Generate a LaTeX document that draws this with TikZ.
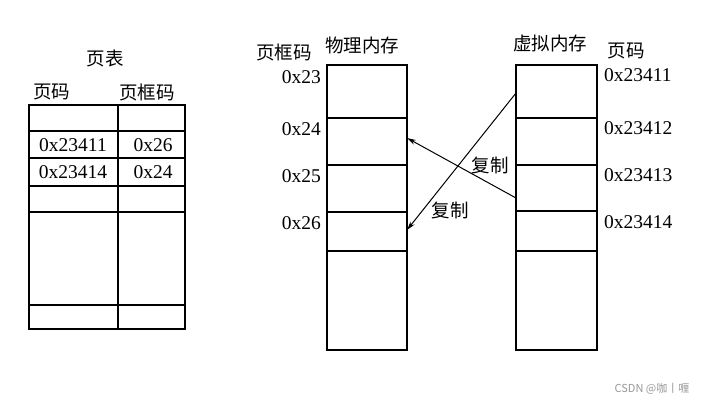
\documentclass[tikz,border=0pt]{standalone}
\usepackage{fontspec}
\setmainfont{Liberation Serif}
\newfontfamily\cjk{Noto Sans CJK SC}
\usetikzlibrary{arrows.meta}
\begin{document}
\begin{tikzpicture}[x=1pt,y=-1pt,
  box/.style={line width=1.2pt},
  num/.style={font=\fontsize{19.5}{19.5}\selectfont, inner sep=0pt},
  zh/.style={font=\cjk\fontsize{18.5}{18.5}\selectfont, inner sep=0pt},
  arr/.style={line width=1pt,-{Stealth[length=9pt,width=5pt]}},
  wmark/.style={font=\cjk\fontsize{11}{11}\selectfont, text=gray!80, inner sep=0pt}]
\useasboundingbox (0,0) rectangle (705,400);
\fill[white] (0,0) rectangle (705,400);
% page table
\draw[box] (29,105) rectangle (185,329);
\draw[box] (118,105) -- (118,329);
\foreach \y in {131,158,186,212,305} \draw[box] (29,\y) -- (185,\y);
\node[zh] (title) at (105,58) {页表};
\node[zh] (hp) at (52,92) {页码};
\node[zh] (hf) at (147,92) {页框码};
\node[num] (t1a) at (73,145) {0x23411};
\node[num] (t1b) at (153,145) {0x26};
\node[num] (t2a) at (73,172) {0x23414};
\node[num] (t2b) at (153,172) {0x24};
% physical memory
\draw[box] (327,65) rectangle (407,350);
\foreach \y in {118,165,212,251} \draw[box] (327,\y) -- (407,\y);
\node[zh] (pfh) at (284,52) {页框码};
\node[zh] (pm) at (362,45) {物理内存};
\node[num,anchor=east] (p23) at (321,77) {0x23};
\node[num,anchor=east] (p24) at (321,129) {0x24};
\node[num,anchor=east] (p25) at (321,176) {0x25};
\node[num,anchor=east] (p26) at (321,223) {0x26};
% virtual memory
\draw[box] (516,65) rectangle (597,350);
\foreach \y in {118,165,211,251} \draw[box] (516,\y) -- (597,\y);
\node[zh] (vm) at (550,43) {虚拟内存};
\node[zh] (vph) at (626,51) {页码};
\node[num,anchor=west] (v11) at (604,75) {0x23411};
\node[num,anchor=west] (v12) at (604,128) {0x23412};
\node[num,anchor=west] (v13) at (604,175) {0x23413};
\node[num,anchor=west] (v14) at (604,222) {0x23414};
% arrows
\coordinate (va) at (516,93);
\coordinate (pa) at (407,230);
\coordinate (vb) at (516,198);
\coordinate (pb) at (407,138);
\draw[arr] (va) -- (pa);
\draw[arr] (vb) -- (pb);
\node[zh] (c1) at (490,165) {复制};
\node[zh] (c2) at (450,210) {复制};
\node[wmark] (wm) at (652,389) {CSDN @咖丨喱};
\end{tikzpicture}
\end{document}
